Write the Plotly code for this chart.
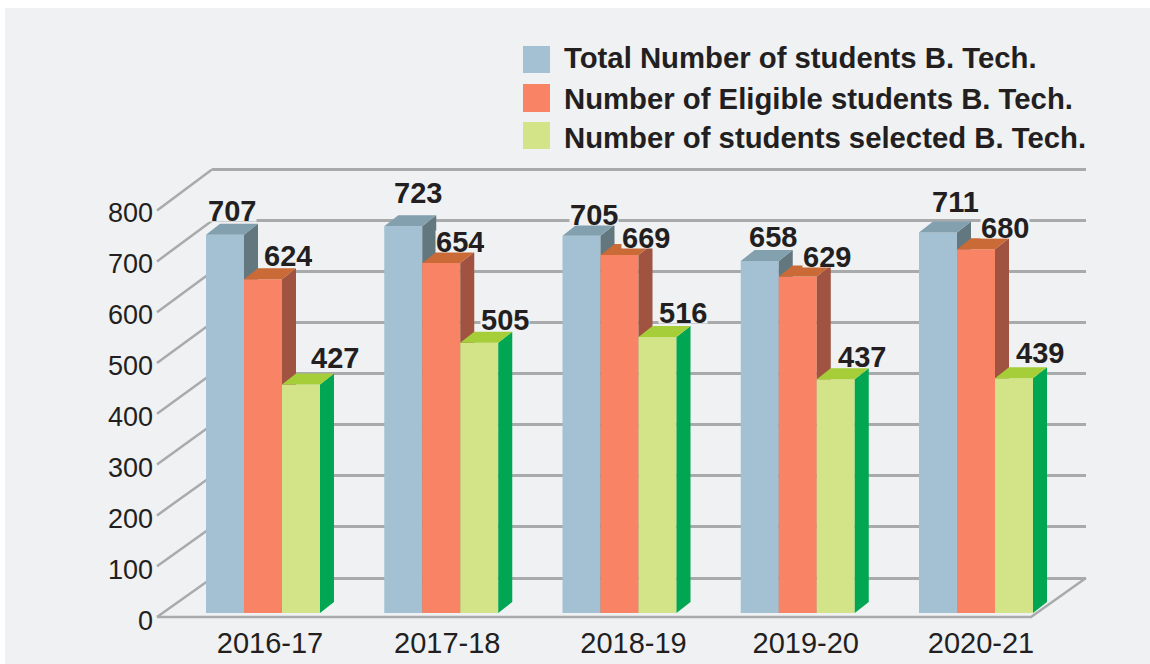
import plotly.graph_objects as go

# ---- data ----
years = ["2016-17", "2017-18", "2018-19", "2019-20", "2020-21"]
total_students = [707, 723, 705, 658, 711]
eligible_students = [624, 654, 669, 629, 680]
selected_students = [427, 505, 516, 437, 439]
series_names = ["Total Number of students B. Tech.",
                "Number of Eligible students B. Tech.",
                "Number of students selected B. Tech."]
axis_ticks = [0, 100, 200, 300, 400, 500, 600, 700, 800]

# ---- styles and geometry (pixels) ----
W, H = 1150, 664
BG = "#EFF1F3"
INK = "#231F20"
GRID = "#A9AAAC"
FONT = "Liberation Sans, Arial, sans-serif"
front_col = ["#A3C1D3", "#F98465", "#D3E387"]
side_col = ["#63777F", "#A05340", "#00A651"]
top_col = ["#83A0AF", "#C96A37", "#A6CE39"]

GROUP0, GROUP_STEP = 263.0, 178.25
BAR_W, BAR_DX, BAR_DY = 38.0, 14.0, 11.0
BAR_BASE, BAR_SCALE = 613.0, 0.535
LABEL_0, LABEL_SCALE = 621.0, 0.51      # axis that carries the tick labels
FRONT_0, FRONT_SCALE = 617.0, 0.508     # front edge of the left wall
BACK_0, BACK_SCALE = 578.0, 0.5105      # back wall grid
WALL_L, WALL_R, FLOOR_R = 157.0, 1086.0, 1031.0
WALL_DX, WALL_DY = 55.0, 39.0
year_nudge = [7, 6, 14, 8, 5]
label_nudge = [[7, 15, 12, 13, 17], [25, 19, 26, 29, 29], [34, 26, 25, 26, 26]]
label_lift = [[24, 34, 21, 24, 31], [24, 22, 18, 20, 22], [27, 23, 24, 23, 26]]


def x_of(px):
    return (px - GROUP0) / GROUP_STEP


def y_of(px):
    return (LABEL_0 - px) / LABEL_SCALE


def y_range(zero_px, scale):
    return [-(H - zero_px) / scale, zero_px / scale]


series = [total_students, eligible_students, selected_students]
fig = go.Figure()

# back wall: native grid of the first subplot, so it lies under everything
fig.add_trace(go.Scatter(x=[0, 1], y=[0, 800], mode="markers", xaxis="x", yaxis="y",
                         marker=dict(opacity=0), hoverinfo="skip", showlegend=False))

# wall diagonals and floor edges
wall_x, wall_y = [], []
for t in axis_ticks:
    wall_x += [x_of(WALL_L), x_of(WALL_L + WALL_DX), None]
    wall_y += [y_of(FRONT_0 - t * FRONT_SCALE), y_of(BACK_0 - t * BACK_SCALE), None]
wall_x += [x_of(WALL_L), x_of(FLOOR_R), x_of(WALL_R)]
wall_y += [y_of(FRONT_0), y_of(FRONT_0), y_of(FRONT_0 - WALL_DY)]
fig.add_trace(go.Scatter(x=wall_x, y=wall_y, mode="lines", xaxis="x2", yaxis="y2",
                         line=dict(color=GRID, width=2.5), hoverinfo="skip", showlegend=False))

annotations = []
for s, vals in enumerate(series):
    ya = f"y{s + 3}"
    off = (s - 1) * BAR_W / GROUP_STEP
    w = BAR_W / GROUP_STEP
    dx = BAR_DX / GROUP_STEP
    dv_bar = BAR_DY / BAR_SCALE
    fig.add_trace(go.Bar(x=[i + off for i in range(len(vals))], y=vals, width=w, name=series_names[s],
                         xaxis="x2", yaxis=ya, marker=dict(color=front_col[s], line_width=0),
                         showlegend=False))
    sx, sy, tx, ty = [], [], [], []
    for i, v in enumerate(vals):
        l, r = i + off - w / 2, i + off + w / 2
        sx += [r, r + dx, r + dx, r, r, None]
        sy += [0, dv_bar, v + dv_bar, v, 0, None]
        tx += [l, r, r + dx, l + dx, l, None]
        ty += [v, v, v + dv_bar, v + dv_bar, v, None]
        annotations.append(dict(x=i + off + label_nudge[s][i] / GROUP_STEP, y=v + label_lift[s][i] / BAR_SCALE,
                                xref="x2", yref=ya, text=f"<b>{v}</b>", showarrow=False,
                                font=dict(family=FONT, size=29, color=INK),
                                bgcolor=BG, height=21, borderpad=0, xanchor="center", yanchor="middle"))
    fig.add_trace(go.Scatter(x=sx, y=sy, mode="lines", fill="toself", fillcolor=side_col[s], xaxis="x2", yaxis=ya,
                             line=dict(width=0), hoverinfo="skip", showlegend=False))
    fig.add_trace(go.Scatter(x=tx, y=ty, mode="lines", fill="toself", fillcolor=top_col[s], xaxis="x2", yaxis=ya,
                             line=dict(width=0), hoverinfo="skip", showlegend=False))

# legend drawn as swatches with text
shapes = [dict(type="rect", xref="paper", yref="paper", x0=5 / W, x1=1, y0=0, y1=1 - 8 / H,
               fillcolor=BG, line_width=0, layer="below")]
legend_rows = [(46, 73, 58), (84, 112, 98), (122, 149, 137)]
for s, (a, b, c) in enumerate(legend_rows):
    shapes.append(dict(type="rect", xref="paper", yref="paper", x0=523 / W, x1=550 / W,
                       y0=1 - b / H, y1=1 - a / H, fillcolor=front_col[s], line_width=0))
    annotations.append(dict(x=562 / W, y=1 - c / H, xref="paper", yref="paper", text=f"<b>{series_names[s]}</b>",
                            showarrow=False, xanchor="left", yanchor="middle",
                            font=dict(family=FONT, size=29.3, color=INK)))

full_x = [x_of(0), x_of(W)]
layout = dict(
    width=W, height=H, autosize=False, margin=dict(l=0, r=0, t=0, b=0),
    paper_bgcolor="white", plot_bgcolor="rgba(0,0,0,0)", barmode="overlay", showlegend=False,
    shapes=shapes, annotations=annotations,
    xaxis=dict(domain=[(WALL_L + WALL_DX) / W, WALL_R / W], range=[0, 1], anchor="y", visible=False),
    yaxis=dict(domain=[0, 1], range=y_range(BACK_0, BACK_SCALE), anchor="x", showgrid=True,
               gridcolor=GRID, gridwidth=2.5, zeroline=False, showline=False, showticklabels=False, ticks="",
               tickmode="array", tickvals=axis_ticks),
    xaxis2=dict(domain=[0, 1], range=full_x, anchor="free", position=1 - 617 / H, showgrid=False, zeroline=False,
                showline=False, ticks="", tickmode="array", ticklabelstandoff=6,
                tickvals=[i + year_nudge[i] / GROUP_STEP for i in range(len(years))], ticktext=years,
                tickfont=dict(family=FONT, size=29, color=INK)),
    yaxis2=dict(domain=[0, 1], range=y_range(LABEL_0, LABEL_SCALE), anchor="free", position=WALL_L / W,
                showgrid=False, zeroline=False, showline=False, ticks="", tickmode="array",
                tickvals=axis_ticks, ticklabelstandoff=4,
                tickfont=dict(family=FONT, size=27, color=INK)),
)
for k in ("yaxis3", "yaxis4", "yaxis5"):
    layout[k] = dict(domain=[0, 1], range=y_range(BAR_BASE, BAR_SCALE), anchor="x2", overlaying="y2", visible=False)
fig.update_layout(**layout)
fig.write_html("out.html", config=dict(displayModeBar=False),
               post_script="document.body.style.margin='0';")
